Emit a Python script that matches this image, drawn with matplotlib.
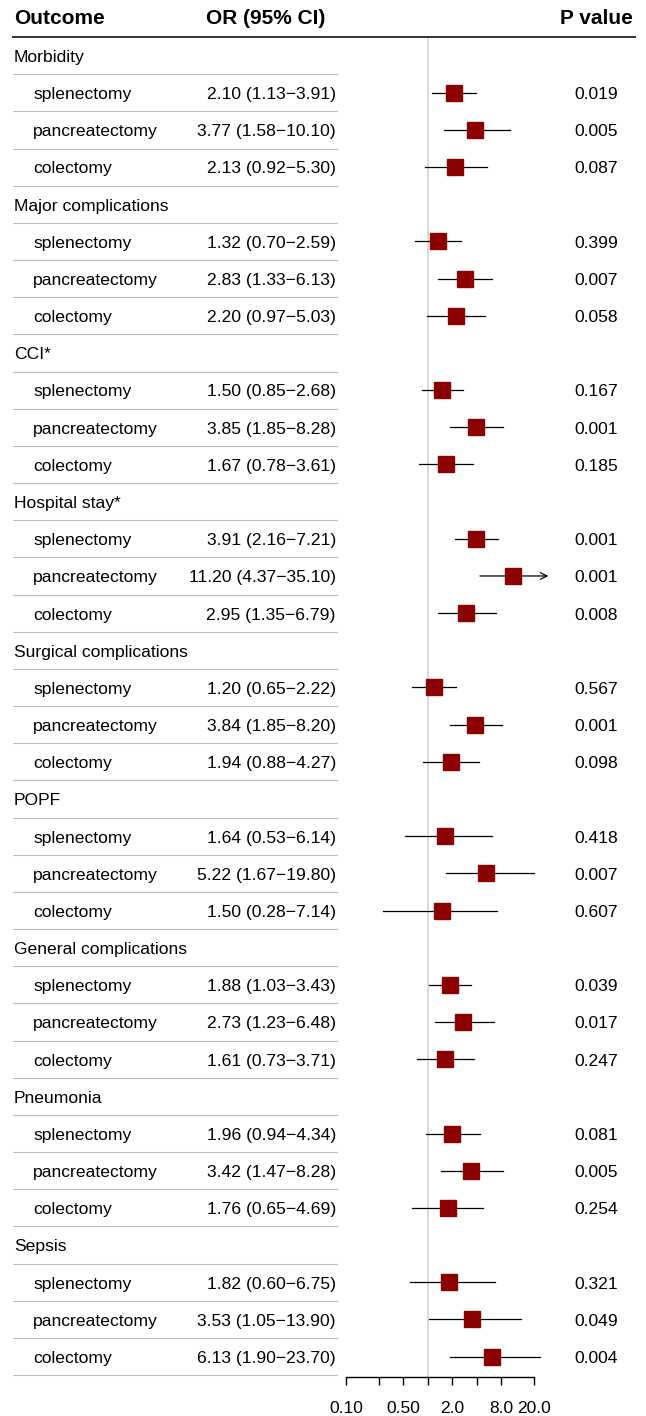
import numpy as np
import matplotlib.pyplot as plt
from matplotlib.transforms import blended_transform_factory
from matplotlib.lines import Line2D

plt.rcParams['font.family'] = ['Liberation Sans', 'DejaVu Sans']

# 数据
groups = ['Morbidity', 'Major complications', 'CCI*', 'Hospital stay*',
          'Surgical complications', 'POPF', 'General complications',
          'Pneumonia', 'Sepsis']
procedures = ['splenectomy', 'pancreatectomy', 'colectomy']

odds = [2.10, 3.77, 2.13,
        1.32, 2.83, 2.20,
        1.50, 3.85, 1.67,
        3.91, 11.20, 2.95,
        1.20, 3.84, 1.94,
        1.64, 5.22, 1.50,
        1.88, 2.73, 1.61,
        1.96, 3.42, 1.76,
        1.82, 3.53, 6.13]
lower = [1.13, 1.58, 0.92,
         0.70, 1.33, 0.97,
         0.85, 1.85, 0.78,
         2.16, 4.37, 1.35,
         0.65, 1.85, 0.88,
         0.53, 1.67, 0.28,
         1.03, 1.23, 0.73,
         0.94, 1.47, 0.65,
         0.60, 1.05, 1.90]
upper = [3.91, 10.10, 5.30,
         2.59, 6.13, 5.03,
         2.68, 8.28, 3.61,
         7.21, 35.10, 6.79,
         2.22, 8.20, 4.27,
         6.14, 19.80, 7.14,
         3.43, 6.48, 3.71,
         4.34, 8.28, 4.69,
         6.75, 13.90, 23.70]
pvals = ['0.019', '0.005', '0.087',
         '0.399', '0.007', '0.058',
         '0.167', '0.001', '0.185',
         '0.001', '0.001', '0.008',
         '0.567', '0.001', '0.098',
         '0.418', '0.007', '0.607',
         '0.039', '0.017', '0.247',
         '0.081', '0.005', '0.254',
         '0.321', '0.049', '0.004']

xticks = [0.1, 0.25, 0.5, 1, 2, 4, 8, 20]
xticklabels = ['0.10', '', '0.50', '', '2.0', '', '8.0', '20.0']
clip_hi = 30

W, H = 646, 1416
fig = plt.figure(figsize=(W / 100, H / 100), dpi=100)
ax = fig.add_axes([346 / W, (H - 1377) / H, 188 / W, 1340 / H])

n_rows = len(groups) * 4
ax.set_xscale('log')
ax.set_xlim(0.1, 20)
ax.set_ylim(n_rows - 0.45, -0.5)
ax.minorticks_off()
for s in ['top', 'left', 'right']:
    ax.spines[s].set_visible(False)
ax.spines['bottom'].set_linewidth(1.0)
ax.set_yticks([])
ax.set_xticks(xticks)
ax.set_xticklabels(xticklabels, fontsize=12.5)
ax.tick_params(axis='x', direction='out', length=6, width=1.0, pad=11)

# 参考线 OR = 1
ax.axvline(1, color='#d4d4d4', lw=1.2, zorder=0)

tr = blended_transform_factory(fig.transFigure, ax.transData)

def fx(px):
    return px / W

dy = 0.05  # 文字略微下移
fs = 12.6

# 表头
hy = -1.0
ax.text(fx(14), hy, 'Outcome', transform=tr, fontsize=15, fontweight='bold',
        ha='left', va='center')
ax.text(fx(266), hy, 'OR (95% CI)', transform=tr, fontsize=15, fontweight='bold',
        ha='center', va='center')
ax.text(fx(596), hy, 'P value', transform=tr, fontsize=15, fontweight='bold',
        ha='center', va='center')
fig.add_artist(Line2D([fx(13), fx(635)], [-0.5, -0.5], transform=tr,
                      color='#333333', lw=1.4))

row = 0
k = 0
for g in groups:
    ax.text(fx(14), row + dy, g, transform=tr, fontsize=fs, ha='left', va='center')
    fig.add_artist(Line2D([fx(13), fx(337)], [row + 0.5, row + 0.5], transform=tr,
                          color='#bdbdbd', lw=0.8))
    row += 1
    for p in procedures:
        ax.text(fx(33), row + dy, p, transform=tr, fontsize=fs, ha='left', va='center')
        ax.text(fx(336), row + dy, f'{odds[k]:.2f} ({lower[k]:.2f}\u2212{upper[k]:.2f})',
                transform=tr, fontsize=fs, ha='right', va='center')
        ax.text(fx(596), row + dy, pvals[k], transform=tr, fontsize=fs,
                ha='center', va='center')
        fig.add_artist(Line2D([fx(13), fx(337)], [row + 0.5, row + 0.5], transform=tr,
                              color='#bdbdbd', lw=0.8))
        if upper[k] > clip_hi:
            ax.annotate('', xy=(clip_hi, row), xytext=(lower[k], row),
                        arrowprops=dict(arrowstyle='->', lw=0.9, color='black',
                                        shrinkA=0, shrinkB=0, mutation_scale=12),
                        annotation_clip=False)
        else:
            ax.plot([lower[k], upper[k]], [row, row], color='black', lw=0.9,
                    clip_on=False, zorder=2)
        ax.plot(odds[k], row, marker='s', markersize=11.5, color='#8b0000',
                clip_on=False, zorder=3)
        row += 1
        k += 1

plt.savefig('out.png', dpi=100)
